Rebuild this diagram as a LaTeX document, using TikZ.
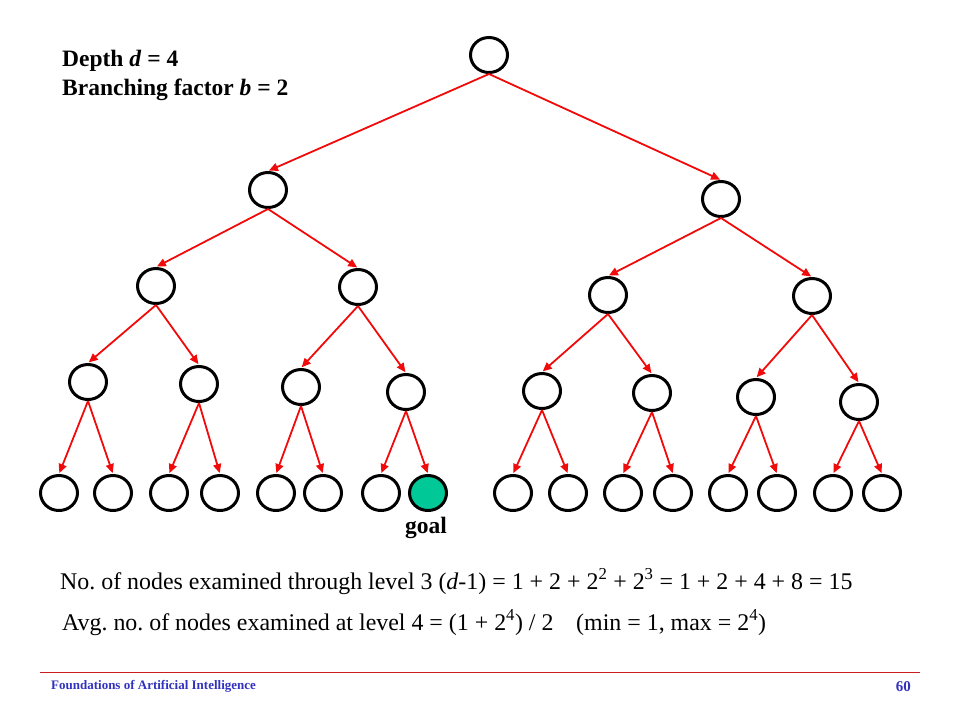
\documentclass[tikz,border=0pt]{standalone}
\usepackage{fontspec}
\setmainfont{Liberation Serif}
\usetikzlibrary{shapes.geometric,arrows.meta}
\frenchspacing
\definecolor{goalgreen}{RGB}{0,200,150}
\definecolor{edgered}{RGB}{240,10,10}
\definecolor{rulered}{RGB}{200,30,30}
\definecolor{footblue}{RGB}{50,50,190}
\tikzset{
  tnode/.style={ellipse,draw=black,line width=3pt,minimum width=37pt,minimum height=35pt,inner sep=0pt,fill=white},
  goalnode/.style={tnode,fill=goalgreen},
  edge/.style={draw=edgered,line width=1.8pt,-{Triangle[length=9pt,width=8pt]},shorten >=1pt},
  lbl/.style={anchor=base west,inner sep=0pt},
  bigbold/.style={font=\bfseries\fontsize{23.5}{27}\selectfont},
  body/.style={font=\fontsize{23.9}{27}\selectfont}
}
\begin{document}
\begin{tikzpicture}[x=1pt,y=-1pt]
\useasboundingbox (0,0) rectangle (960,720);
% nodes
\node[tnode] (n1) at (489,55) {};
\node[tnode] (n2) at (268,190) {};
\node[tnode] (n3) at (721,199) {};
\node[tnode] (n4) at (156,286) {};
\node[tnode] (n5) at (358,287) {};
\node[tnode] (n6) at (608,295) {};
\node[tnode] (n7) at (812,296) {};
\node[tnode] (n8) at (88,382) {};
\node[tnode] (n9) at (199,384) {};
\node[tnode] (n10) at (301,387) {};
\node[tnode] (n11) at (406,392) {};
\node[tnode] (n12) at (542,391) {};
\node[tnode] (n13) at (652,393) {};
\node[tnode] (n14) at (756,397) {};
\node[tnode] (n15) at (859,402) {};
\foreach \i/\x in {16/59,17/113,18/169,19/220,20/276,21/323,22/381,24/513,25/568,26/623,27/673,28/728,29/777,30/833,31/882}
  \node[tnode] (n\i) at (\x,493) {};
\node[goalnode] (n23) at (428,493) {};
% edges
\foreach \p in {1,...,15}{
  \pgfmathtruncatemacro{\a}{2*\p}
  \pgfmathtruncatemacro{\b}{2*\p+1}
  \draw[edge] (n\p.south) -- (n\a.north);
  \draw[edge] (n\p.south) -- (n\b.north);
}
% labels
\node[bigbold,anchor=base,inner sep=0pt] (goal) at (426,533) {goal};
\node[lbl,bigbold] (t1) at (62,66) {Depth \textit{d} = 4};
\node[lbl,bigbold] (t2) at (62,95) {Branching factor \textit{b} = 2};
\node[lbl,body] (t3) at (60,589) {No. of nodes examined through level 3 (\textit{d}-1) = 1 + 2 + 2\textsuperscript{2} + 2\textsuperscript{3} = 1 + 2 + 4 + 8 = 15};
\node[lbl,body] (t4) at (62,630) {Avg. no. of nodes examined at level 4 = (1 + 2\textsuperscript{4}) / 2\hspace{0.95em}(min = 1, max = 2\textsuperscript{4})};
% footer
\coordinate (fl) at (40,672);
\coordinate (fr) at (920,672);
\draw[rulered,line width=1pt] (fl) -- (fr);
\node[lbl,font=\bfseries\fontsize{13}{15}\selectfont,text=footblue] (f1) at (51,689) {Foundations of Artificial Intelligence};
\node[anchor=base east,inner sep=0pt,font=\bfseries\fontsize{15}{17}\selectfont,text=footblue] (f2) at (911,691) {60};
\end{tikzpicture}
\end{document}
